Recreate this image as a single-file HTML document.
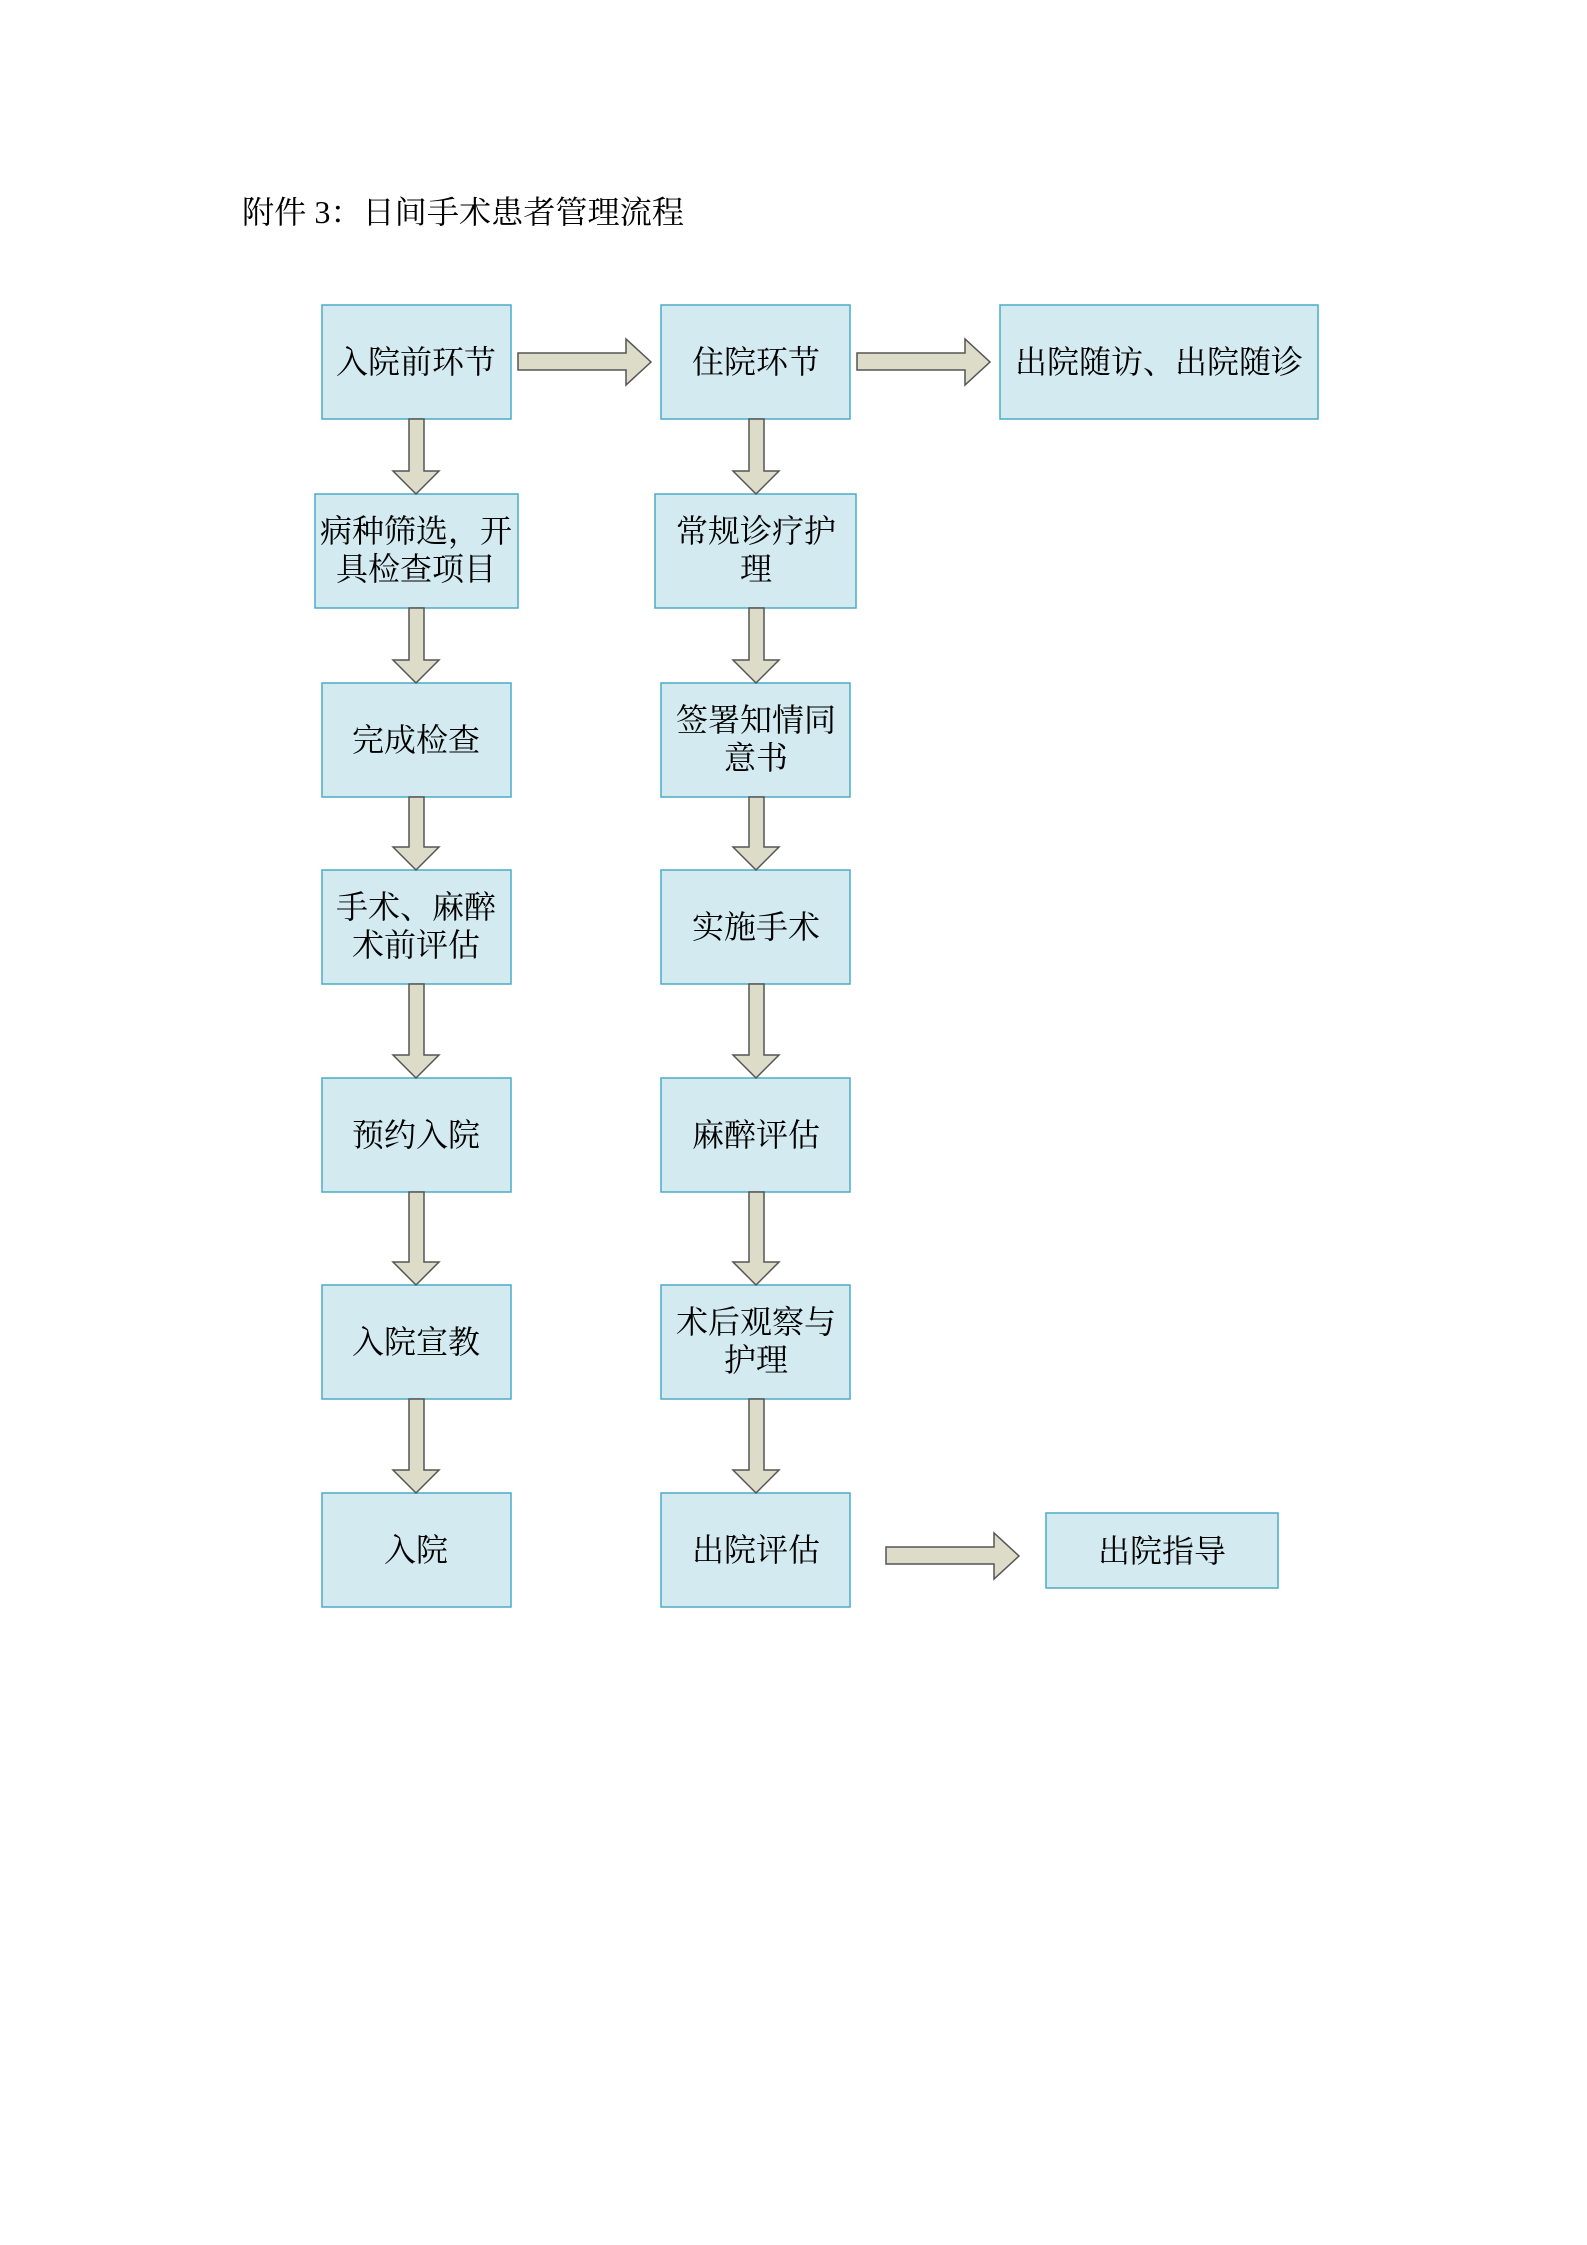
<!DOCTYPE html>
<html><head><meta charset="utf-8"><style>
body{margin:0;background:#fff}
svg{display:block}
text{font-family:"Liberation Serif","Noto Serif CJK SC",serif;fill:#000}
</style></head><body>
<svg width="1587" height="2245" viewBox="0 0 1587 2245" xmlns="http://www.w3.org/2000/svg">
<text x="242" y="223" font-size="31.5" textLength="442" lengthAdjust="spacingAndGlyphs">附件 3：日间手术患者管理流程</text>
<g fill="#d2eaf0" stroke="#4bacc6" stroke-width="1.5">
<rect x="322" y="305" width="189" height="114"/>
<rect x="661" y="305" width="189" height="114"/>
<rect x="1000" y="305" width="318" height="114"/>
<rect x="315" y="494" width="203" height="114"/>
<rect x="655" y="494" width="201" height="114"/>
<rect x="322" y="683" width="189" height="114"/>
<rect x="661" y="683" width="189" height="114"/>
<rect x="322" y="870" width="189" height="114"/>
<rect x="661" y="870" width="189" height="114"/>
<rect x="322" y="1078" width="189" height="114"/>
<rect x="661" y="1078" width="189" height="114"/>
<rect x="322" y="1285" width="189" height="114"/>
<rect x="661" y="1285" width="189" height="114"/>
<rect x="322" y="1493" width="189" height="114"/>
<rect x="661" y="1493" width="189" height="114"/>
<rect x="1046" y="1513" width="232" height="75"/>
</g>
<g fill="#dcdcc8" stroke="#555" stroke-width="1.5">
<polygon points="518,353 626,353 626,339 651,362 626,385 626,370 518,370"/>
<polygon points="857,353 965,353 965,339 990,362 965,385 965,370 857,370"/>
<polygon points="886,1547 994,1547 994,1533 1019,1556 994,1579 994,1564 886,1564"/>
</g>
<g fill="#dcdcc8" stroke="#555" stroke-width="1.5">
<polygon points="409,419 424,419 424,471 439,471 416,494 393,471 409,471"/>
<polygon points="409,608 424,608 424,660 439,660 416,683 393,660 409,660"/>
<polygon points="409,797 424,797 424,847 439,847 416,870 393,847 409,847"/>
<polygon points="409,984 424,984 424,1055 439,1055 416,1078 393,1055 409,1055"/>
<polygon points="409,1192 424,1192 424,1262 439,1262 416,1285 393,1262 409,1262"/>
<polygon points="409,1399 424,1399 424,1470 439,1470 416,1493 393,1470 409,1470"/>
<polygon points="749,419 764,419 764,471 779,471 756,494 733,471 749,471"/>
<polygon points="749,608 764,608 764,660 779,660 756,683 733,660 749,660"/>
<polygon points="749,797 764,797 764,847 779,847 756,870 733,847 749,847"/>
<polygon points="749,984 764,984 764,1055 779,1055 756,1078 733,1055 749,1055"/>
<polygon points="749,1192 764,1192 764,1262 779,1262 756,1285 733,1262 749,1262"/>
<polygon points="749,1399 764,1399 764,1470 779,1470 756,1493 733,1470 749,1470"/>
</g>
<g font-size="32" text-anchor="middle">
<text x="416" y="373">入院前环节</text>
<text x="756" y="373">住院环节</text>
<text x="1159" y="373">出院随访、出院随诊</text>
<text x="416" y="542">病种筛选，开</text>
<text x="416" y="580">具检查项目</text>
<text x="756" y="542">常规诊疗护</text>
<text x="756" y="580">理</text>
<text x="416" y="751">完成检查</text>
<text x="756" y="731">签署知情同</text>
<text x="756" y="769">意书</text>
<text x="416" y="918">手术、麻醉</text>
<text x="416" y="956">术前评估</text>
<text x="756" y="938">实施手术</text>
<text x="416" y="1146">预约入院</text>
<text x="756" y="1146">麻醉评估</text>
<text x="416" y="1353">入院宣教</text>
<text x="756" y="1333">术后观察与</text>
<text x="756" y="1371">护理</text>
<text x="416" y="1561">入院</text>
<text x="756" y="1561">出院评估</text>
<text x="1162" y="1562">出院指导</text>
</g>
</svg>
</body></html>
